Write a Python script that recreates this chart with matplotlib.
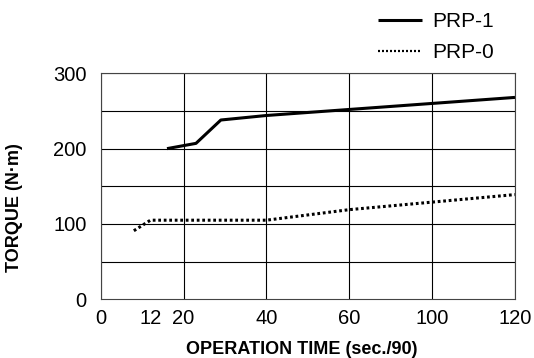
import numpy as np
import matplotlib
matplotlib.use("Agg")
import matplotlib.pyplot as plt

# Data
x_ticks = [0, 12, 20, 40, 60, 100, 120]
x_breaks = [0, 20, 40, 60, 100, 120]
y_ticks = [0, 100, 200, 300]
y_grid = [50, 100, 150, 200, 250, 300]

prp1_x = [16, 23, 29, 40, 60, 100, 120]
prp1_y = [200, 207, 238, 244, 252, 260, 268]

prp0_x = [8, 12, 40, 50, 60, 100, 120]
prp0_y = [91, 105, 105, 112, 119, 129, 139]

pos = list(range(len(x_breaks)))

def fwd(v):
    return np.interp(v, x_breaks, pos)

def inv(v):
    return np.interp(v, pos, x_breaks)

plt.rcParams['font.family'] = ['Liberation Sans', 'DejaVu Sans']

fig = plt.figure(figsize=(5.34, 3.58), dpi=100)
ax = fig.add_axes([100.7/534, 1 - 299.3/358, (515-100.7)/534, (299.3-73.3)/358])

ax.set_xscale('function', functions=(fwd, inv))
ax.set_xlim(0, 120)
ax.set_ylim(0, 300)

l1, = ax.plot(prp1_x, prp1_y, color='black', lw=2.2, solid_capstyle='butt', label='PRP-1')
l0, = ax.plot(prp0_x, prp0_y, color='black', lw=2.2, linestyle=(0, (0.9, 0.9)), label='PRP-0')

ax.xaxis.remove_overlapping_locs = False
ax.yaxis.remove_overlapping_locs = False
ax.set_xticks(x_ticks)
ax.set_xticklabels([str(t) for t in x_ticks])
ax.set_yticks(y_ticks)
ax.set_yticklabels([str(t) for t in y_ticks])
ax.set_xticks(x_breaks, minor=True)
ax.set_yticks(y_grid, minor=True)
ax.tick_params(which='both', length=0)
ax.tick_params(axis='x', pad=7, labelsize=14.5)
ax.tick_params(axis='y', pad=10, labelsize=14.5)
ax.grid(which='minor', color='black', lw=0.8)
ax.grid(which='major', visible=False)
for s in ax.spines.values():
    s.set_linewidth(0.8)
    s.set_color('#444444')

ax.set_xlabel('OPERATION TIME (sec./90)', fontsize=13, fontweight='bold', va='baseline')
ax.xaxis.set_label_coords(0.485, (299.3 - 353.5) / 226)
ax.set_ylabel('TORQUE (N·m)', fontsize=13, fontweight='bold', va='baseline')
ax.yaxis.set_label_coords((19.5 - 100.7) / 414.3, 0.408)

leg = fig.legend(handles=[l1, l0], loc='upper left', bbox_to_anchor=(370/534, 1 - 4/358),
                 frameon=False, fontsize=15, handlelength=2.1, handletextpad=0.5,
                 labelspacing=0.55, borderaxespad=0)
leg.get_lines()[1].set_linewidth(1.6)

fig.savefig('out.png', dpi=100)
